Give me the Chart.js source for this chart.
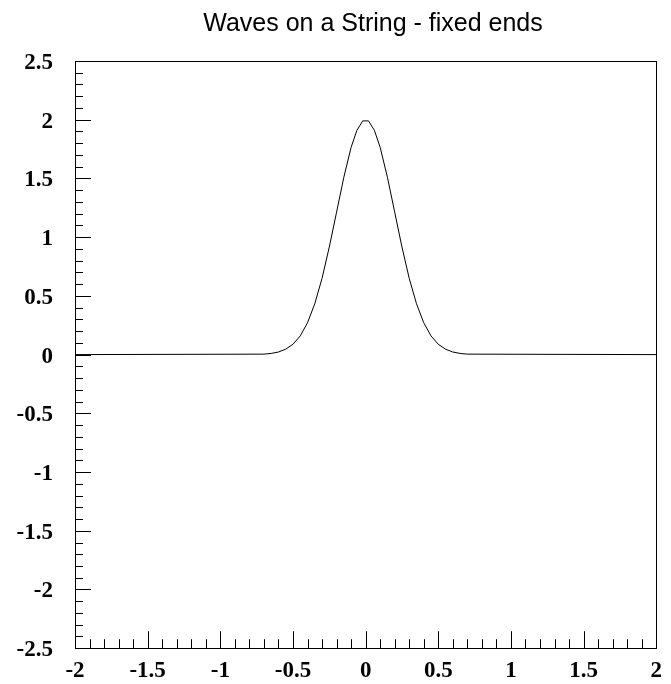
<!DOCTYPE html>
<html>
<head>
<meta charset="utf-8">
<script src="https://cdn.jsdelivr.net/npm/chart.js@4/dist/chart.umd.min.js"></script>
<style>
  html, body { margin: 0; padding: 0; background: #fff; }
  canvas { display: block; }
</style>
</head>
<body>
<canvas id="chart" width="671" height="684"></canvas>
<script>
// string displacement
const xValues = [-2, -0.7, -0.65, -0.6, -0.55, -0.5, -0.45, -0.4, -0.35, -0.3, -0.25, -0.2, -0.15, -0.1, -0.06, -0.02,
    0.02, 0.06, 0.1, 0.15, 0.2, 0.25, 0.3, 0.35, 0.4, 0.45, 0.5, 0.55, 0.6, 0.65, 0.7, 2];
const yValues = [0, 0.004, 0.01, 0.022, 0.046, 0.088, 0.159, 0.271, 0.433, 0.649, 0.916, 1.213, 1.51, 1.765, 1.91, 1.99,
    1.99, 1.91, 1.765, 1.51, 1.213, 0.916, 0.649, 0.433, 0.271, 0.159, 0.088, 0.046, 0.022, 0.01, 0.004, 0];
const xRange = [-2, 2];
const yRange = [-2.5, 2.5];
const titleText = 'Waves on a String - fixed ends';

const tickFont = { family: '"Liberation Serif", "DejaVu Serif", serif', size: 23, weight: 'bold' };

// ROOT style frame with inward ticks on the left and bottom edges
const framePlugin = {
    id: 'frame',
    afterDraw(chart) {
        const { ctx, chartArea: a, scales: { x, y } } = chart;
        ctx.save();
        ctx.strokeStyle = '#000';
        ctx.lineWidth = 1;
        ctx.strokeRect(Math.round(a.left) + 0.5, Math.round(a.top) + 0.5,
            Math.round(a.right - a.left), Math.round(a.bottom - a.top));
        ctx.beginPath();
        for (let i = 0; i <= 50; i++) {
            const v = yRange[0] + i * 0.1;
            const py = Math.round(y.getPixelForValue(v)) + 0.5;
            const len = i % 5 === 0 ? 16 : 8;
            ctx.moveTo(a.left, py);
            ctx.lineTo(a.left + len, py);
        }
        for (let i = 0; i <= 40; i++) {
            const v = xRange[0] + i * 0.1;
            const px = Math.round(x.getPixelForValue(v)) + 0.5;
            const len = i % 5 === 0 ? 17 : 9;
            ctx.moveTo(px, a.bottom);
            ctx.lineTo(px, a.bottom - len);
        }
        ctx.stroke();

        ctx.fillStyle = '#000';
        ctx.font = '25px "Liberation Sans", Arial, sans-serif';
        ctx.textAlign = 'center';
        ctx.textBaseline = 'alphabetic';
        ctx.fillText(titleText, 373, 31);
        ctx.restore();
    },
};

new Chart(document.getElementById('chart'), {
    type: 'line',
    data: {
        datasets: [{
            data: xValues.map((v, i) => ({ x: v, y: yValues[i] })),
            borderColor: '#000',
            borderWidth: 1,
            pointRadius: 0,
            tension: 0,
            fill: false,
        }],
    },
    options: {
        responsive: false,
        animation: false,
        layout: { padding: { top: 61, right: 5, left: 0, bottom: 0 } },
        plugins: { legend: { display: false }, tooltip: { enabled: false }, title: { display: false } },
        scales: {
            x: {
                type: 'linear',
                min: xRange[0],
                max: xRange[1],
                grid: { display: false, drawTicks: false },
                border: { display: false },
                ticks: {
                    stepSize: 0.5,
                    padding: 9,
                    color: '#000',
                    font: tickFont,
                    maxRotation: 0,
                    autoSkip: false,
                    callback: (v) => String(v),
                },
                afterFit: (s) => { s.height = 33; },
            },
            y: {
                type: 'linear',
                min: yRange[0],
                max: yRange[1],
                grid: { display: false, drawTicks: false },
                border: { display: false },
                ticks: {
                    stepSize: 0.5,
                    padding: 22,
                    color: '#000',
                    font: tickFont,
                    labelOffset: 2,
                    autoSkip: false,
                    callback: (v) => String(v),
                },
                afterFit: (s) => { s.width = 75; },
            },
        },
    },
    plugins: [framePlugin],
});
</script>
</body>
</html>
